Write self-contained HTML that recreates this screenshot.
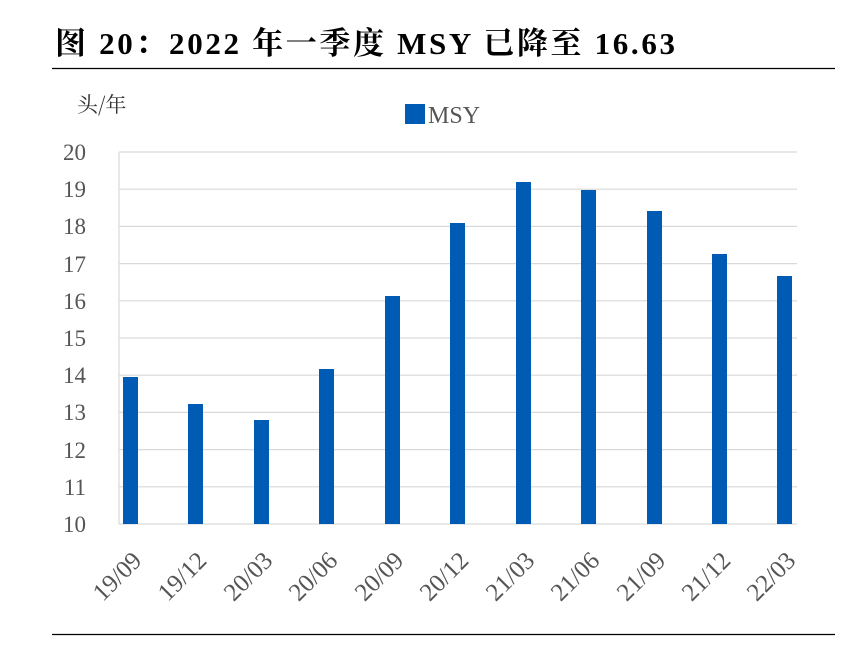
<!DOCTYPE html>
<html><head><meta charset="utf-8"><style>
body{margin:0;background:#fff;}
</style></head><body>
<svg width="850" height="669" xmlns="http://www.w3.org/2000/svg" style="display:block">
<text x="55" y="54" font-family="Liberation Serif, Noto Serif CJK SC, serif" font-weight="bold" font-size="31" fill="#000" textLength="620" lengthAdjust="spacing">图 20：2022 年一季度 MSY 已降至 16.63</text>
<line x1="52" y1="68.5" x2="835" y2="68.5" stroke="#000" stroke-width="1.2"/>
<line x1="52" y1="634.5" x2="835" y2="634.5" stroke="#000" stroke-width="1.2"/>
<text x="77" y="112" font-family="Noto Serif CJK SC, serif" font-size="21" fill="#333">头/年</text>
<rect x="405" y="104" width="20" height="20" fill="#005bb5"/>
<text x="428" y="123" font-family="Liberation Serif, serif" font-size="24" fill="#555">MSY</text>
<g stroke="#d9d9d9" stroke-width="1.2">
<line x1="119" y1="152" x2="797" y2="152"/><line x1="119" y1="189.2" x2="797" y2="189.2"/>
<line x1="119" y1="226.4" x2="797" y2="226.4"/><line x1="119" y1="263.6" x2="797" y2="263.6"/>
<line x1="119" y1="300.8" x2="797" y2="300.8"/><line x1="119" y1="338" x2="797" y2="338"/>
<line x1="119" y1="375.2" x2="797" y2="375.2"/><line x1="119" y1="412.4" x2="797" y2="412.4"/>
<line x1="119" y1="449.6" x2="797" y2="449.6"/><line x1="119" y1="486.8" x2="797" y2="486.8"/>
<line x1="119" y1="524" x2="797" y2="524"/><line x1="119" y1="152" x2="119" y2="524"/>
</g>
<g font-family="Liberation Serif, serif" font-size="23" fill="#555" text-anchor="end">
<text x="86" y="160">20</text><text x="86" y="197">19</text><text x="86" y="234">18</text>
<text x="86" y="272">17</text><text x="86" y="309">16</text><text x="86" y="346">15</text>
<text x="86" y="383">14</text><text x="86" y="420">13</text><text x="86" y="458">12</text>
<text x="86" y="495">11</text><text x="86" y="532">10</text>
</g>
<g fill="#005bb5">
<rect x="123" y="377" width="15" height="147"/>
<rect x="188" y="404" width="15" height="120"/>
<rect x="254" y="420" width="15" height="104"/>
<rect x="319" y="369" width="15" height="155"/>
<rect x="385" y="296" width="15" height="228"/>
<rect x="450" y="223" width="15" height="301"/>
<rect x="516" y="182" width="15" height="342"/>
<rect x="581" y="190" width="15" height="334"/>
<rect x="647" y="211" width="15" height="313"/>
<rect x="712" y="254" width="15" height="270"/>
<rect x="777" y="276" width="15" height="248"/>
</g>
<g font-family="Liberation Serif, serif" font-size="25" fill="#555" text-anchor="end">
<text transform="translate(143,562) rotate(-45)">19/09</text>
<text transform="translate(208,562) rotate(-45)">19/12</text>
<text transform="translate(274,562) rotate(-45)">20/03</text>
<text transform="translate(339,562) rotate(-45)">20/06</text>
<text transform="translate(405,562) rotate(-45)">20/09</text>
<text transform="translate(470,562) rotate(-45)">20/12</text>
<text transform="translate(536,562) rotate(-45)">21/03</text>
<text transform="translate(601,562) rotate(-45)">21/06</text>
<text transform="translate(667,562) rotate(-45)">21/09</text>
<text transform="translate(732,562) rotate(-45)">21/12</text>
<text transform="translate(797,562) rotate(-45)">22/03</text>
</g>
</svg>
</body></html>
